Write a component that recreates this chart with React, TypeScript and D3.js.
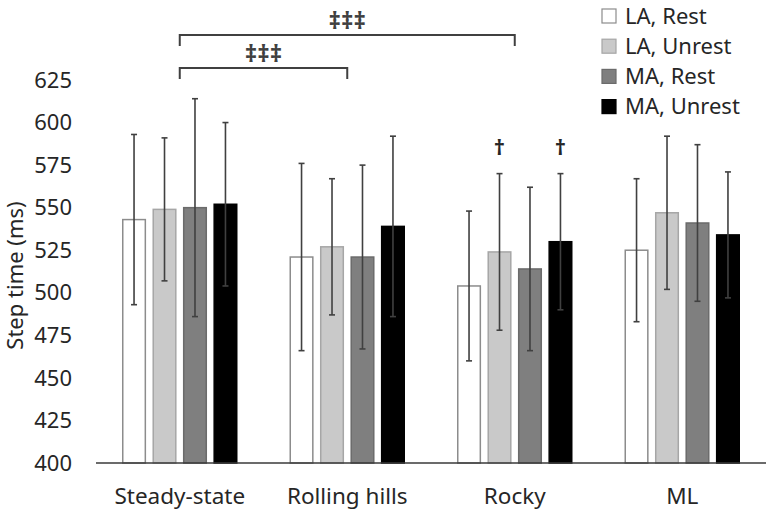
import React from "react";
import * as d3 from "d3";

const categories = ["Steady-state", "Rolling hills", "Rocky", "ML"];
const series = ["LA, Rest", "LA, Unrest", "MA, Rest", "MA, Unrest"];
const laRest = [543, 521, 504, 525];
const laRestSd = [50, 55, 44, 42];
const laUnrest = [549, 527, 524, 547];
const laUnrestSd = [42, 40, 46, 45];
const maRest = [550, 521, 514, 541];
const maRestSd = [64, 54, 48, 46];
const maUnrest = [552, 539, 530, 534];
const maUnrestSd = [48, 53, 40, 37];
const yTicks = [400, 425, 450, 475, 500, 525, 550, 575, 600, 625];
const daggers = [
  { cat: "Rocky", ser: "LA, Unrest" },
  { cat: "Rocky", ser: "MA, Unrest" },
];
const brackets = [
  { from: "Steady-state", to: "Rocky", label: "‡‡‡", level: 0 },
  { from: "Steady-state", to: "Rolling hills", label: "‡‡‡", level: 1 },
];

const values = [laRest, laUnrest, maRest, maUnrest];
const sds = [laRestSd, laUnrestSd, maRestSd, maUnrestSd];
const fills = ["#ffffff", "#c9c9c9", "#7f7f7f", "#000000"];
const strokes = ["#8c8c8c", "#a6a6a6", "#6b6b6b", "#000000"];

const FONT = "'Noto Sans', 'Open Sans', sans-serif";

export default function App() {
  const W = 768;
  const H = 513;
  const x0 = d3.scaleBand<string>().domain(categories).range([96, 766]).padding(0);
  const bw0 = x0.bandwidth();
  const x1 = d3
    .scaleBand<string>()
    .domain(series)
    .range([26, bw0 - 26])
    .paddingInner(0.21)
    .paddingOuter(0);
  const y = d3.scaleLinear().domain([400, 625]).range([463, 80]);
  const bracketY = [35, 68];

  return (
    <svg
      width={W}
      height={H}
      style={{ position: "absolute", left: 0, top: 0, background: "#fff" }}
      fontFamily={FONT}
    >
      <rect x={0} y={0} width={W} height={H} fill="#fff" />
      {yTicks.map((t) => (
        <text
          key={t}
          x={72}
          y={y(t)}
          dy="0.35em"
          textAnchor="end"
          fontSize={22}
          fill="#262626"
        >
          {t}
        </text>
      ))}
      <text
        transform={`translate(15, ${(y(400) + y(625)) / 2 + 4}) rotate(-90)`}
        textAnchor="middle"
        dy="0.35em"
        fontSize={22}
        fill="#262626"
      >
        Step time (ms)
      </text>
      {categories.map((c, ci) => (
        <g key={c} transform={`translate(${x0(c)},0)`}>
          {series.map((s, si) => {
            const v = values[si][ci];
            const sd = sds[si][ci];
            const bx = x1(s)!;
            const bw = x1.bandwidth();
            const cx = bx + bw / 2;
            return (
              <g key={s}>
                <rect
                  x={bx + 0.75}
                  y={y(v)}
                  width={bw - 1.5}
                  height={y(400) - y(v)}
                  fill={fills[si]}
                  stroke={strokes[si]}
                  strokeWidth={1.5}
                />
                <line x1={cx} x2={cx} y1={y(v + sd)} y2={y(v - sd)} stroke="#404040" strokeWidth={1.6} />
                <line x1={cx - 3} x2={cx + 3} y1={y(v + sd)} y2={y(v + sd)} stroke="#404040" strokeWidth={1.6} />
                <line x1={cx - 3} x2={cx + 3} y1={y(v - sd)} y2={y(v - sd)} stroke="#404040" strokeWidth={1.6} />
              </g>
            );
          })}
        </g>
      ))}
      <line x1={96} x2={766} y1={y(400)} y2={y(400)} stroke="#3a3a3a" strokeWidth={1.5} />
      {categories.map((c) => (
        <text
          key={c}
          x={x0(c)! + bw0 / 2}
          y={496}
          dy="0.35em"
          textAnchor="middle"
          fontSize={22.5}
          fill="#262626"
        >
          {c}
        </text>
      ))}
      {daggers.map((d, i) => {
        const cx = x0(d.cat)! + x1(d.ser)! + x1.bandwidth() / 2;
        return (
          <text
            key={i}
            x={cx}
            y={147}
            dy="0.35em"
            textAnchor="middle"
            fontSize={22}
            fontWeight="bold"
            fill="#262626"
          >
            †
          </text>
        );
      })}
      {brackets.map((b, i) => {
        const xa = x0(b.from)! + bw0 / 2;
        const xb = x0(b.to)! + bw0 / 2;
        const by = bracketY[b.level];
        return (
          <g key={i}>
            <path
              d={`M${xa},${by + 11}V${by}H${xb}V${by + 11}`}
              fill="none"
              stroke="#404040"
              strokeWidth={2}
            />
            <text
              x={(xa + xb) / 2}
              y={by - 14}
              dy="0.35em"
              textAnchor="middle"
              fontSize={24}
              fontWeight="bold"
              fill="#404040"
            >
              {b.label}
            </text>
          </g>
        );
      })}
      {series.map((s, si) => (
        <g key={s} transform={`translate(602, ${16 + si * 30.2})`}>
          <rect x={0} y={-7} width={14} height={14} fill={fills[si]} stroke={strokes[si]} strokeWidth={1.2} />
          <text x={23} y={0} dy="0.35em" fontSize={22} fill="#262626">
            {s}
          </text>
        </g>
      ))}
    </svg>
  );
}
